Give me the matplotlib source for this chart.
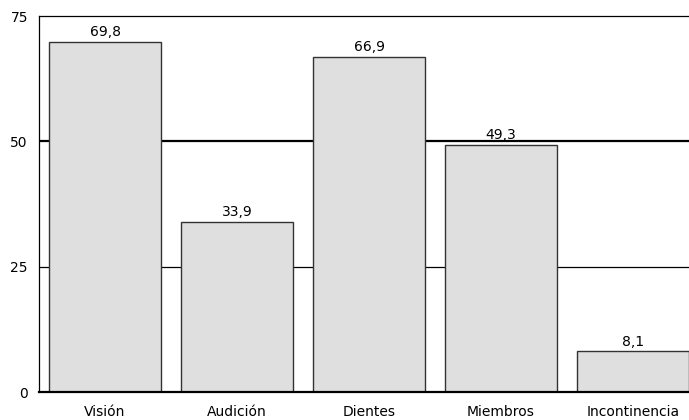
import matplotlib
matplotlib.use("Agg")
import matplotlib.pyplot as plt

categories = ["Visión", "Audición", "Dientes", "Miembros", "Incontinencia"]
values = [69.8, 33.9, 66.9, 49.3, 8.1]
labels = ["69,8", "33,9", "66,9", "49,3", "8,1"]
yticks = [0, 25, 50, 75]

plt.rcParams['font.family'] = ['DejaVu Sans']

W, H = 689, 420
fig = plt.figure(figsize=(W / 100, H / 100), dpi=100)
ax = fig.add_axes([39 / W, 28 / H, 660 / W, 376 / H])

ax.set_xlim(-0.5, 4.5)
ax.set_ylim(0, 75)

# gridlines
ax.axhline(25, color='black', lw=0.9, zorder=0)
ax.axhline(50, color='black', lw=1.6, zorder=0)

x = range(len(categories))
bars = ax.bar(x, values, width=112 / 132, color='#dfdfdf', edgecolor='#333333',
              linewidth=1.0, zorder=2)
for xi, v, lab in zip(x, values, labels):
    ax.annotate(lab, (xi, v), xytext=(0, 2), textcoords='offset points',
                ha='center', va='bottom', fontsize=10, color='black')

ax.set_xticks(list(x))
ax.set_xticklabels(categories, fontsize=10)
ax.set_yticks(yticks)
ax.set_yticklabels([str(t) for t in yticks], fontsize=10)
ax.tick_params(axis='both', length=0)
ax.tick_params(axis='y', pad=8)
ax.tick_params(axis='x', pad=9)

for s in ['top', 'left']:
    ax.spines[s].set_linewidth(0.9)
ax.spines['bottom'].set_linewidth(1.6)
ax.spines['right'].set_visible(False)

fig.savefig("out.png", dpi=100)
